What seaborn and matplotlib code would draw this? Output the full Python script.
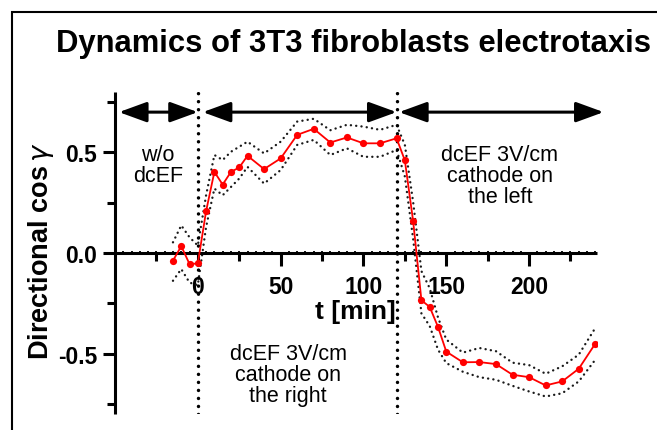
import matplotlib
matplotlib.use("Agg")
import matplotlib.pyplot as plt
import seaborn as sns
import pandas as pd
from matplotlib.patches import Rectangle, ArrowStyle
from matplotlib.ticker import MultipleLocator, FixedLocator

# ---------------- data ----------------
t_min = [-15, -10, -5, 0, 5, 10, 15, 20, 25, 30, 40, 50, 60, 70, 80, 90, 100, 110,
         120, 125, 130, 135, 140, 145, 150, 160, 170, 180, 190, 200, 210, 220, 230, 240]
cos_mean = [-0.038, 0.034, -0.055, -0.052, 0.208, 0.403, 0.340, 0.403, 0.425, 0.483,
            0.417, 0.470, 0.587, 0.617, 0.549, 0.574, 0.545, 0.545, 0.570, 0.460,
            0.158, -0.235, -0.268, -0.367, -0.490, -0.543, -0.542, -0.552, -0.605,
            -0.617, -0.658, -0.638, -0.575, -0.450]
cos_upper = [0.053, 0.137, 0.078, 0.037, 0.287, 0.487, 0.462, 0.503, 0.528, 0.553,
             0.495, 0.553, 0.653, 0.667, 0.610, 0.637, 0.628, 0.612, 0.637, 0.537,
             0.253, -0.090, -0.175, -0.320, -0.430, -0.495, -0.472, -0.488, -0.545,
             -0.557, -0.600, -0.563, -0.505, -0.372]
cos_lower = [-0.138, -0.080, -0.147, -0.160, 0.130, 0.320, 0.287, 0.328, 0.370, 0.428,
             0.345, 0.412, 0.537, 0.562, 0.487, 0.520, 0.478, 0.478, 0.512, 0.380,
             0.070, -0.300, -0.363, -0.480, -0.547, -0.590, -0.617, -0.630, -0.660,
             -0.688, -0.713, -0.697, -0.638, -0.530]

x_ticks = [0, 50, 100, 150, 200]
x_tick_labels = ["0", "50", "100", "150", "200"]
x_mid_ticks = [-25, 25, 75, 125, 175, 225]
y_ticks = [-0.5, 0.0, 0.5]
y_tick_labels = ["-0.5", "0.0", "0.5"]
y_minor_ticks = [-0.75, -0.25, 0.25, 0.75]
phase_bounds = [0, 120]
phase_arrows = [(-47.6, 0), (3, 120), (121.5, 245)]
arrow_level = 0.7

title = "Dynamics of 3T3 fibroblasts electrotaxis"
xlabel = "t [min]"
ylabel = r"Directional cos$\,\gamma$"
txt_before = "w/o\ndcEF"
txt_right = "dcEF 3V/cm\ncathode on\nthe right"
txt_left = "dcEF 3V/cm\ncathode on\nthe left"

# ---------------- style ----------------
sns.set_theme(style="ticks")
plt.rcParams["font.family"] = ["Liberation Sans", "DejaVu Sans"]
plt.rcParams["axes.unicode_minus"] = False
plt.rcParams["mathtext.fontset"] = "dejavusans"

W, H = 657, 431
fig = plt.figure(figsize=(W / 100, H / 100), dpi=100)
fig.patch.set_facecolor("white")
ax = fig.add_axes([115 / W, 16 / H, 482 / W, 322 / H])
ax.set_facecolor("white")

df = pd.DataFrame({"t": t_min, "mean": cos_mean, "upper": cos_upper, "lower": cos_lower})

band_kw = dict(color="#1a1a1a", linewidth=1.7, linestyle=(0, (0.05, 2.2)),
               dash_capstyle="round")
sns.lineplot(data=df, x="t", y="upper", ax=ax, errorbar=None, **band_kw)
sns.lineplot(data=df, x="t", y="lower", ax=ax, errorbar=None, **band_kw)
sns.lineplot(data=df, x="t", y="mean", ax=ax, errorbar=None, color="#ff0000",
             linewidth=1.3, marker="o", markersize=5.2, markeredgewidth=0, zorder=5)

for xb in phase_bounds:
    ax.axvline(xb, color="black", linewidth=2.5, linestyle=(0, (0.01, 2.3)),
               dash_capstyle="round", zorder=4)

ax.set_xlim(-50, 241)
ax.set_ylim(-0.8, 0.8)

# spines
for s in ["top", "right"]:
    ax.spines[s].set_visible(False)
ax.spines["bottom"].set_position(("data", 0))
for s in ["left", "bottom"]:
    ax.spines[s].set_linewidth(2.2)
    ax.spines[s].set_color("black")
    ax.spines[s].set_capstyle("butt")

# ticks
ax.set_xticks(x_ticks)
ax.set_xticklabels(x_tick_labels, fontweight="bold", fontsize=16.5)
ax.xaxis.set_minor_locator(MultipleLocator(5))
ax.tick_params(axis="x", which="major", length=9, width=2.2, pad=7,
               direction="out", color="black", labelcolor="black")
ax.tick_params(axis="x", which="minor", length=2.2, width=1.3, direction="inout",
               color="black")
ax.set_yticks(y_ticks)
ax.set_yticklabels(y_tick_labels, fontweight="bold", fontsize=16.5)
ax.yaxis.set_minor_locator(FixedLocator(y_minor_ticks))
ax.tick_params(axis="y", which="major", length=9, width=2.2, pad=4,
               direction="out", color="black", labelcolor="black")
ax.tick_params(axis="y", which="minor", length=5.5, width=2.2, direction="out",
               color="black")

sec = ax.secondary_xaxis(0.5)
sec.set_alignment("bottom")
sec.set_xticks(x_mid_ticks)
sec.tick_params(axis="x", which="major", length=5.5, width=2.2, direction="out",
                labelbottom=False, labeltop=False, color="black")
for s in sec.spines.values():
    s.set_visible(False)

# labels
ax.set_xlabel(xlabel, fontsize=19, fontweight="bold", color="black")
ax.xaxis.set_label_coords((355 - 115) / 482, (415 - 300) / 322)
ax.set_ylabel(ylabel, fontsize=19.5, fontweight="bold", color="black")
ax.yaxis.label.set_va("baseline")
ax.yaxis.set_label_coords((48 - 115) / 482, (415 - 251) / 322)

fig.text(353 / W, 1 - 52 / H, title, ha="center", va="baseline",
         fontsize=22.3, fontweight="bold", color="black")

# phase arrows
astyle = ArrowStyle("<|-|>", head_length=1.7, head_width=0.62)
for x0, x1 in phase_arrows:
    ax.annotate("", xy=(x1, arrow_level), xytext=(x0, arrow_level),
                xycoords="data", textcoords="data", annotation_clip=False,
                arrowprops=dict(arrowstyle=astyle, color="black", lw=2.2,
                                shrinkA=0, shrinkB=0, mutation_scale=10))

# phase texts
ax.text(-24, 0.435, txt_before, ha="center", va="center", fontsize=15.5,
        linespacing=1.0, color="black")
ax.text(54.5, -0.605, txt_right, ha="center", va="center", fontsize=15.5,
        linespacing=1.0, color="black")
ax.text(182.3, 0.383, txt_left, ha="center", va="center", fontsize=15.5,
        linespacing=1.0, color="black")

# outer frame (partially visible)
fig.add_artist(Rectangle((12 / W, -0.5), 2.0, (H - 13) / H + 0.5,
                         transform=fig.transFigure, fill=False,
                         edgecolor="black", linewidth=1.5))

fig.savefig("out.png", dpi=100)
